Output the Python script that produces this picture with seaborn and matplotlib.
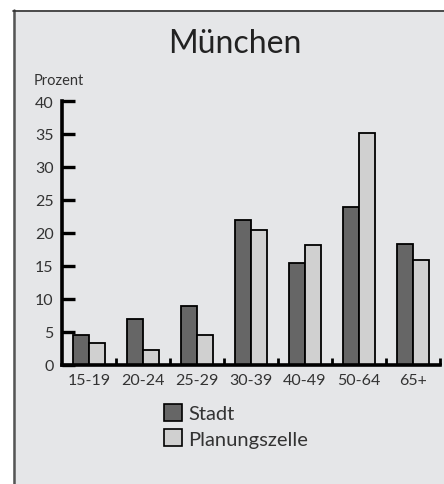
import matplotlib
matplotlib.use("Agg")
import matplotlib.pyplot as plt
from matplotlib.patches import Rectangle, Patch
from matplotlib.lines import Line2D
import seaborn as sns
import pandas as pd

# data
age_groups = ["15-19", "20-24", "25-29", "30-39", "40-49", "50-64", "65+"]
stadt = [4.5, 6.9, 8.9, 21.9, 15.5, 24.0, 18.3]
planungszelle = [3.4, 2.3, 4.5, 20.5, 18.2, 35.2, 15.9]
series_names = ["Stadt", "Planungszelle"]
y_ticks = [0, 5, 10, 15, 20, 25, 30, 35, 40]

sns.set_style("white")
plt.rcParams["font.family"] = ["Lato", "DejaVu Sans"]

W, H = 444, 485
fig = plt.figure(figsize=(W / 100, H / 100), dpi=100, facecolor="white")

# grey panel with dark left/top border (behind the axes)
bg = "#e5e6e8"
fig.patches.append(Rectangle((13 / W, 0), 1 - 13 / W, 1 - 11 / H,
                             transform=fig.transFigure, facecolor=bg,
                             edgecolor="none", zorder=-2))
fig.lines.append(Line2D([14 / W, 14 / W], [0, 1 - 11 / H], transform=fig.transFigure,
                        color="#555555", lw=1.8, zorder=-1))
fig.lines.append(Line2D([13 / W, 1], [1 - 11.5 / H, 1 - 11.5 / H], transform=fig.transFigure,
                        color="#303030", lw=1.2, zorder=-1))

ax = fig.add_axes([62 / W, 1 - 366 / H, 378 / W, 264 / H])
ax.set_facecolor("none")

df = pd.DataFrame({
    "Alter": age_groups * 2,
    "Prozent": stadt + planungszelle,
    "Gruppe": [series_names[0]] * len(age_groups) + [series_names[1]] * len(age_groups),
})
palette = {"Stadt": "#666666", "Planungszelle": "#d0d0d0"}
sns.barplot(data=df, x="Alter", y="Prozent", hue="Gruppe", palette=palette,
            width=0.61, saturation=1, edgecolor="black", linewidth=1.3,
            legend=False, ax=ax)

ax.set_xlim(-0.5, len(age_groups) - 0.5)
ax.set_ylim(0, 40)
ax.set_xlabel("")
ax.set_ylabel("")

for s in ["top", "right"]:
    ax.spines[s].set_visible(False)
for s in ["left", "bottom"]:
    ax.spines[s].set_linewidth(2.6)
    ax.spines[s].set_color("black")

ax.set_yticks(y_ticks)
ax.tick_params(axis="y", left=True, direction="in", length=9, width=2.4, color="black",
               labelsize=11.5, labelcolor="#333333", pad=6)
ax.set_xticks(range(len(age_groups)))
ax.set_xticklabels(age_groups)
ax.tick_params(axis="x", which="major", bottom=True, length=0, labelsize=11.5,
               labelcolor="#333333", pad=6)
ax.set_xticks([i + 0.5 for i in range(len(age_groups))], minor=True)
ax.tick_params(axis="x", which="minor", bottom=True, direction="in", length=5,
               width=2, color="black")

fig.text(235 / W, 1 - 44 / H, "München", ha="center", va="center",
         fontsize=23, color="#222222")
fig.text(34 / W, 1 - 81 / H, "Prozent", ha="left", va="center",
         fontsize=10.5, color="#333333")

handles = [Patch(facecolor=palette[n], edgecolor="black", linewidth=1.2) for n in series_names]
fig.legend(handles, series_names, loc="upper left",
           bbox_to_anchor=(164 / W, 1 - 405 / H), frameon=False,
           fontsize=14.5, handlelength=0.9, handleheight=0.9,
           handletextpad=0.3, labelspacing=0.35, borderpad=0, borderaxespad=0,
           labelcolor="#333333")

fig.savefig("out.png", dpi=100, facecolor="white")
